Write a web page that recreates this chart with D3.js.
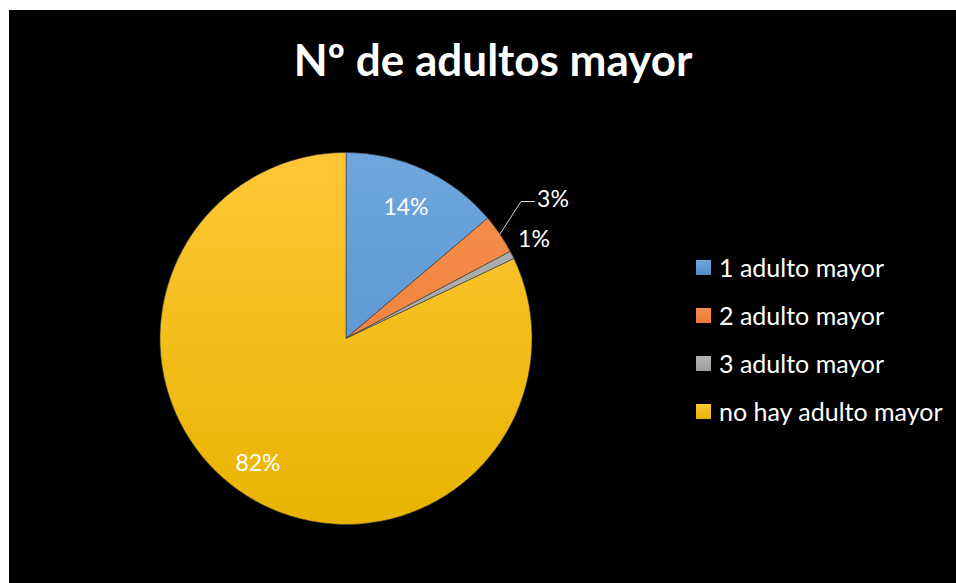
<!DOCTYPE html>
<html>
<head>
<meta charset="utf-8">
<script src="https://cdn.jsdelivr.net/npm/d3@7"></script>
<style>
  html, body { margin: 0; padding: 0; background: #ffffff; }
  svg { display: block; }
  text { font-family: Lato, "Open Sans", sans-serif; }
</style>
</head>
<body>
<svg id="chart" width="956" height="583"></svg>
<script>
// Household counts by number of older adults
const categories = ["1 adulto mayor", "2 adulto mayor", "3 adulto mayor", "no hay adulto mayor"];
const counts = [20, 5, 1, 119];
const colorsTop = ["#6fa6de", "#f6904f", "#b3b3b3", "#ffc736"];
const colorsBottom = ["#4c8ccb", "#ed7a2e", "#9d9d9d", "#e8b400"];
const titleText = "Nº de adultos mayor";

const svg = d3.select("#chart");
const W = 956, H = 583;

// chart area
svg.append("rect").attr("x", 9).attr("y", 10).attr("width", W - 9).attr("height", H - 10).attr("fill", "#000");

svg.append("text")
  .attr("x", 493).attr("y", 76)
  .attr("text-anchor", "middle")
  .attr("fill", "#fff")
  .attr("font-size", 44)
  .attr("font-weight", "bold")
  .text(titleText);

const cx = 346, cy = 338.5, r = 186;
const total = d3.sum(counts);
const data = categories.map((c, i) => ({ name: c, value: counts[i], i }));

const defs = svg.append("defs");
data.forEach(d => {
  const g = defs.append("linearGradient")
    .attr("id", "grad" + d.i)
    .attr("gradientUnits", "userSpaceOnUse")
    .attr("x1", 0).attr("y1", -r).attr("x2", 0).attr("y2", r);
  g.append("stop").attr("offset", "0%").attr("stop-color", colorsTop[d.i]);
  g.append("stop").attr("offset", "100%").attr("stop-color", colorsBottom[d.i]);
});

const pie = d3.pie().value(d => d.value).sort(null);
const arcs = pie(data);
const arc = d3.arc().innerRadius(0).outerRadius(r);

const g = svg.append("g").attr("transform", `translate(${cx},${cy})`);
g.selectAll("path.slice")
  .data(arcs)
  .join("path")
  .attr("class", "slice")
  .attr("d", arc)
  .attr("fill", d => `url(#grad${d.data.i})`)
  .attr("stroke", "#3a3a3a")
  .attr("stroke-width", 0.6);

const pct = d => Math.round(d.value / total * 100) + "%";

// label offsets from the pie centre
const labelPos = [[60, -133], [207, -141], [188, -101], [-88, 123]];
arcs.forEach((a, k) => {
  g.append("text")
    .attr("x", labelPos[k][0]).attr("y", labelPos[k][1])
    .attr("text-anchor", "middle")
    .attr("dominant-baseline", "central")
    .attr("fill", "#fff")
    .attr("font-size", 23)
    .text(pct(a.data));
});

// leader line for the small orange slice
const a1 = arcs[1];
const m1 = (a1.startAngle + a1.endAngle) / 2;
const p0 = [Math.sin(m1) * r, -Math.cos(m1) * r];
g.append("polyline")
  .attr("points", [p0, [175, -137], [189, -137]].map(p => p.join(",")).join(" "))
  .attr("fill", "none")
  .attr("stroke", "#d9d9d9")
  .attr("stroke-width", 1);

// legend
data.forEach(d => {
  const lg = defs.append("linearGradient").attr("id", "lg" + d.i)
    .attr("x1", 0).attr("y1", 0).attr("x2", 0).attr("y2", 1);
  lg.append("stop").attr("offset", "0%").attr("stop-color", colorsTop[d.i]);
  lg.append("stop").attr("offset", "100%").attr("stop-color", colorsBottom[d.i]);
});
const legend = svg.append("g").attr("transform", "translate(696,267)");
const item = legend.selectAll("g").data(data).join("g")
  .attr("transform", (d, i) => `translate(0,${i * 48})`);
item.append("rect")
  .attr("x", 0).attr("y", -7).attr("width", 15).attr("height", 15)
  .attr("fill", d => `url(#lg${d.i})`);
item.append("text")
  .attr("x", 23).attr("y", 0)
  .attr("dominant-baseline", "central")
  .attr("fill", "#fff")
  .attr("font-size", 25)
  .text(d => d.name);
</script>
</body>
</html>
